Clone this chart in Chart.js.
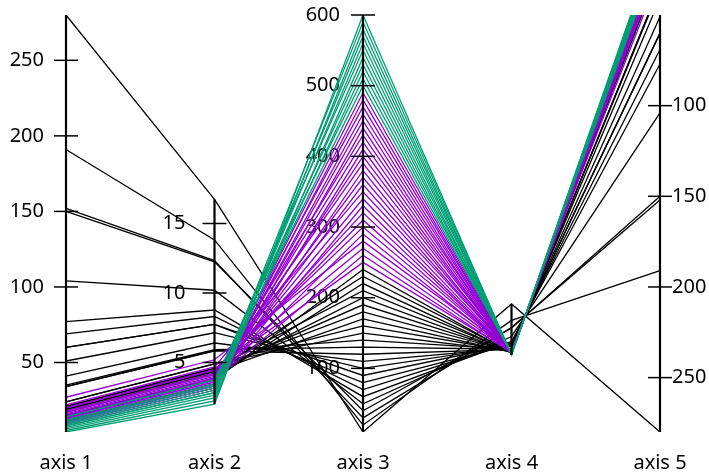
<!DOCTYPE html>
<html>
<head>
<meta charset="utf-8">
<script src="https://cdn.jsdelivr.net/npm/chart.js@4/dist/chart.umd.min.js"></script>
<style>
  html, body { margin: 0; padding: 0; background: #ffffff; }
  #wrap { width: 709px; height: 472px; }
</style>
</head>
<body>
<div id="wrap"><canvas id="c" width="709" height="472"></canvas></div>
<script>
// ---- data (silver dataset: x, counts, sqrt(counts)) ----
const axisNames = ['axis 1', 'axis 2', 'axis 3', 'axis 4', 'axis 5'];

const xValues = [
  10, 20, 30, 40, 50, 60, 70, 80, 90, 100,
  110, 120, 130, 140, 150, 160, 170, 180, 190, 200,
  210, 220, 230, 240, 250, 260, 270, 280, 290, 300,
  310, 320, 330, 340, 350, 360, 370, 380, 390, 400,
  410, 420, 430, 440, 450, 460, 470, 480, 490, 500,
  510, 520, 530, 540, 550, 560, 570, 580, 590, 600
];

const counts = [
  280, 191, 152, 150, 104, 77, 69, 60, 60, 51,
  41, 34, 35, 34, 24, 24, 19, 21, 20, 18,
  21, 15, 19, 14, 20, 14, 20, 27, 14, 20,
  18, 17, 12, 15, 22, 13, 16, 11, 17, 14,
  10, 13, 15, 9, 12, 11, 14, 10, 12, 11,
  14, 8, 10, 6, 12, 7, 9, 5, 8, 4
];

const errors = [
  16.733, 13.820, 12.329, 12.247, 10.198, 8.775, 8.307, 7.746, 7.746, 7.141,
  6.403, 5.831, 5.916, 5.831, 4.899, 4.899, 4.359, 4.583, 4.472, 4.243,
  4.583, 3.873, 4.359, 3.742, 4.472, 3.742, 4.472, 5.196, 3.742, 4.472,
  4.243, 4.123, 3.464, 3.873, 4.690, 3.606, 4.000, 3.317, 4.123, 3.742,
  3.162, 3.606, 3.873, 3.000, 3.464, 3.317, 3.742, 3.162, 3.464, 3.317,
  3.742, 2.828, 3.162, 2.449, 3.464, 2.646, 3.000, 2.236, 2.828, 2.000
];

// columns used by each parallel axis
const axisColumns = [counts, errors, xValues, counts, counts];

// axis ranges
const axisMin = [4, 0, 10, -413, 50];
const axisMax = [280, 30, 600, 1844, 280];
const axisReverse = [false, false, false, false, true];

// tick labels per axis
const ticks1 = [50, 100, 150, 200, 250];
const ticks2 = [5, 10, 15];
const ticks3 = [100, 200, 300, 400, 500, 600];
const ticks4 = [];
const ticks5 = [100, 150, 200, 250];
const axisTicks = [ticks1, ticks2, ticks3, ticks4, ticks5];

// group boundaries on x (colour classes)
const groupLimits = [250, 500];
const palette = ['#000000', '#9400d3', '#009e73'];

// ---- build chart ----
function norm(v, i) {
  const span = axisMax[i] - axisMin[i];
  return axisReverse[i] ? (axisMax[i] - v) / span : (v - axisMin[i]) / span;
}
function groupOf(x) {
  let g = 0;
  groupLimits.forEach(l => { if (x >= l) g++; });
  return g;
}

const N = xValues.length;
const datasets = [];
for (let r = 0; r < N; r++) {
  datasets.push({
    data: axisColumns.map((col, i) => norm(col[r], i)),
    borderColor: palette[groupOf(xValues[r])],
    borderWidth: 1.3,
    pointRadius: 0,
    tension: 0,
    fill: false,
    yAxisID: 'yn',
    order: N - r
  });
}

const FONT = { family: '"Noto Sans", "Open Sans", sans-serif', size: 20 };
const AXIS_STEP_PX = 148.5; // pixel distance between neighbouring parallel axes

function yAxis(i, position, padding, width) {
  const cfg = {
    type: 'linear',
    position: position,
    min: axisMin[i],
    max: axisMax[i],
    reverse: axisReverse[i],
    grid: { display: false, drawTicks: false },
    border: { display: false },
    ticks: { font: FONT, color: '#000000', padding: padding, display: axisTicks[i].length > 0 },
    afterBuildTicks: (s) => { s.ticks = axisTicks[i].map(v => ({ value: v })); },
    afterFit: (s) => {
      s.paddingTop = 0; s.paddingBottom = 0;
      if (width !== undefined) s.width = width;
    }
  };
  return cfg;
}

const axesPlugin = {
  id: 'paxes',
  afterDatasetsDraw(chart) {
    const ctx = chart.ctx;
    const xs = chart.scales.x;
    const area = chart.chartArea;
    ctx.save();
    ctx.strokeStyle = '#000000';
    for (let i = 0; i < axisNames.length; i++) {
      const s = chart.scales['y' + (i + 1)];
      const px = xs.getPixelForValue(i);
      const col = axisColumns[i];
      const lo = Math.min(...col), hi = Math.max(...col);
      const y1 = s.getPixelForValue(lo), y2 = s.getPixelForValue(hi);
      const top = Math.max(Math.min(y1, y2), area.top);
      const bot = Math.min(Math.max(y1, y2), area.bottom);
      ctx.lineWidth = 2.2;
      ctx.beginPath();
      ctx.moveTo(px, top);
      ctx.lineTo(px, bot);
      ctx.stroke();
      ctx.lineWidth = 1.5;
      axisTicks[i].forEach(v => {
        const py = s.getPixelForValue(v);
        ctx.beginPath();
        ctx.moveTo(px - 12, py);
        ctx.lineTo(px + 12, py);
        ctx.stroke();
      });
    }
    ctx.restore();
  }
};

new Chart(document.getElementById('c'), {
  type: 'line',
  data: { labels: axisNames, datasets: datasets },
  options: {
    responsive: false,
    animation: false,
    events: [],
    layout: { padding: { top: 15, left: 0, right: 0, bottom: 0 } },
    plugins: { legend: { display: false }, tooltip: { enabled: false }, title: { display: false } },
    scales: {
      x: {
        type: 'category',
        offset: false,
        grid: { display: false, drawTicks: false },
        border: { display: false },
        ticks: { font: FONT, color: '#000000', padding: 19, maxRotation: 0, autoSkip: false },
        afterFit: (s) => { s.height = 40; }
      },
      yn: { type: 'linear', min: 0, max: 1, display: false },
      y1: yAxis(0, 'left', 22, 66),
      y2: yAxis(1, { x: 1 - 29 / AXIS_STEP_PX }, 0),
      y3: yAxis(2, { x: 2 - 23 / AXIS_STEP_PX }, 0),
      y4: yAxis(3, { x: 3 }, 0),
      y5: yAxis(4, 'right', 12, 49)
    }
  },
  plugins: [axesPlugin]
});
</script>
</body>
</html>
